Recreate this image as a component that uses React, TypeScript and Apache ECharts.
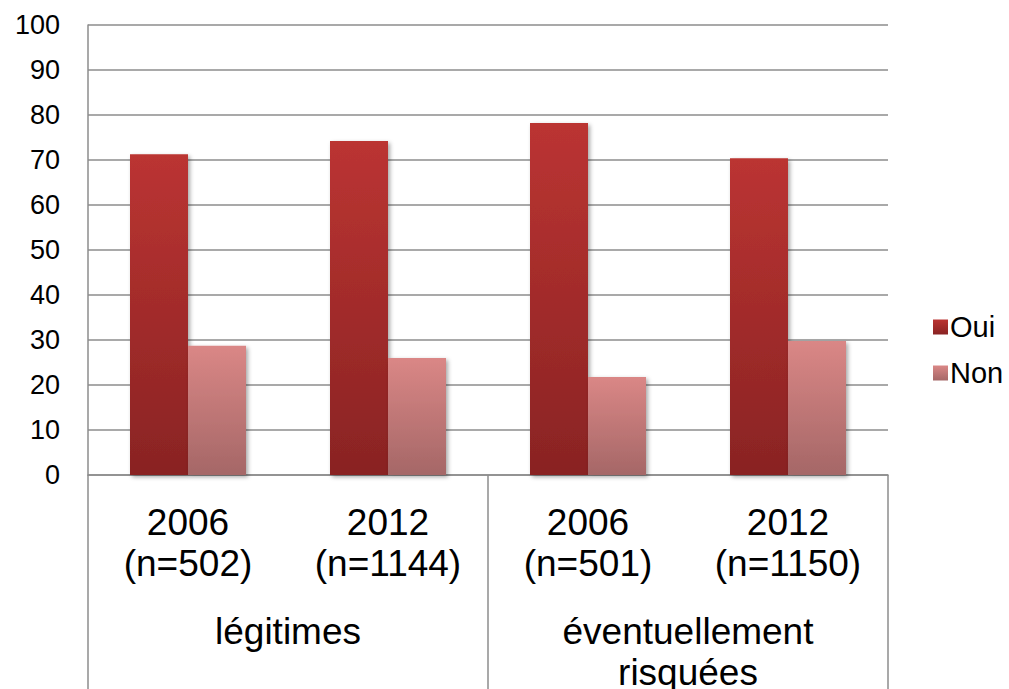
import React, { useEffect, useRef } from "react";
import * as echarts from "echarts";

const years = ["2006\n(n=502)", "2012\n(n=1144)", "2006\n(n=501)", "2012\n(n=1150)"];
const groups = ["légitimes", "éventuellement\nrisquées"];
const oui = [71.3, 74.2, 78.2, 70.4];
const non = [28.7, 26.0, 21.8, 29.8];
const yTicks = { min: 0, max: 100, interval: 10 };

export default function App() {
  const ref = useRef<HTMLDivElement>(null);
  useEffect(() => {
    if (!ref.current) return;
    const chart = echarts.init(ref.current, null, { renderer: "svg" });
    const font = "'Liberation Sans', Arial, sans-serif";
    const grad = (a: string, b: string) =>
      new echarts.graphic.LinearGradient(0, 0, 0, 1, [
        { offset: 0, color: a },
        { offset: 1, color: b },
      ]);
    const shadow = {
      shadowColor: "rgba(0,0,0,0.35)",
      shadowBlur: 4,
      shadowOffsetX: 2,
      shadowOffsetY: 2,
    };
    chart.setOption({
      animation: false,
      backgroundColor: "#ffffff",
      textStyle: { fontFamily: font },
      grid: {
        left: 88,
        right: 121,
        top: 25,
        bottom: 214,
        containLabel: false,
        outerBoundsMode: "none",
      },
      legend: {
        orient: "vertical",
        left: 928,
        top: 307,
        itemWidth: 15,
        itemHeight: 15,
        itemGap: 16,
        icon: "rect",
        textStyle: { fontSize: 29, color: "#000", lineHeight: 30, fontFamily: font, padding: [0, 0, 0, -3] },
        data: ["Oui", "Non"],
      },
      xAxis: [
        {
          type: "category",
          data: years,
          position: "bottom",
          axisLine: { show: true, lineStyle: { color: "#8c8c8c", width: 1.5 } },
          axisTick: { show: false },
          axisLabel: {
            interval: 0,
            margin: 27,
            fontSize: 37,
            lineHeight: 41,
            color: "#000",
            fontFamily: font,
          },
        },
        {
          type: "category",
          data: groups,
          position: "bottom",
          offset: 0,
          axisLine: { show: false },
          axisTick: {
            show: true,
            length: 214,
            lineStyle: { color: "#8c8c8c", width: 1.5 },
          },
          axisLabel: {
            interval: 0,
            margin: 136,
            fontSize: 37,
            lineHeight: 41,
            color: "#000",
            fontFamily: font,
          },
        },
      ],
      yAxis: {
        type: "value",
        min: yTicks.min,
        max: yTicks.max,
        interval: yTicks.interval,
        axisLine: { show: true, lineStyle: { color: "#8c8c8c", width: 1.5 } },
        axisTick: { show: false },
        axisLabel: { fontSize: 27, color: "#000", margin: 28, fontFamily: font },
        splitLine: { show: true, lineStyle: { color: "#8c8c8c", width: 1.5 } },
      },
      series: [
        {
          name: "Oui",
          type: "bar",
          xAxisIndex: 0,
          data: oui,
          barGap: "0%",
          barCategoryGap: "42%",
          itemStyle: { color: grad("#bb3432", "#892323"), ...shadow },
        },
        {
          name: "Non",
          type: "bar",
          xAxisIndex: 0,
          data: non,
          barGap: "0%",
          barCategoryGap: "42%",
          itemStyle: { color: grad("#da8786", "#a56767"), ...shadow },
        },
      ],
    });
    return () => chart.dispose();
  }, []);
  return (
    <div
      ref={ref}
      style={{ position: "fixed", left: 0, top: 0, width: 1009, height: 689 }}
    />
  );
}
